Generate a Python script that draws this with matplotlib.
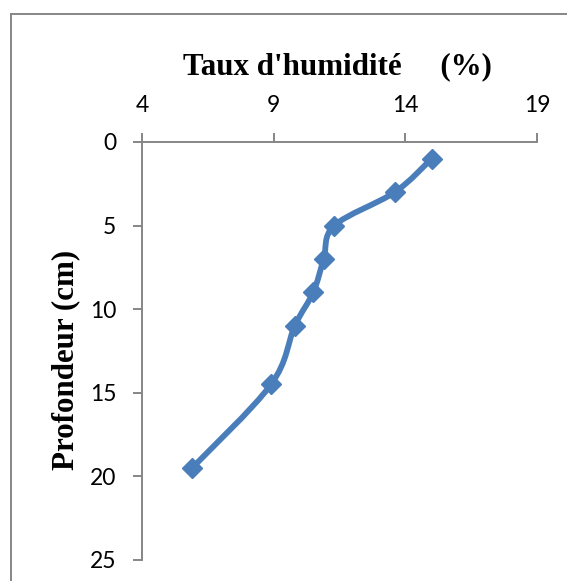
import numpy as np
import matplotlib.pyplot as plt
from matplotlib.path import Path
from matplotlib.patches import PathPatch, Rectangle

# Moisture profile: depth (cm) vs moisture content (%)
humidite = [15.0, 13.6, 11.3, 10.9, 10.5, 9.8, 8.9, 5.9]
profondeur = [1, 3, 5, 7, 9, 11, 14.5, 19.5]
x_ticks = [4, 9, 14, 19]
y_ticks = [0, 5, 10, 15, 20, 25]

blue = "#4A7EBB"
grey = "#868686"

fig = plt.figure(figsize=(5.67, 5.81), dpi=100)
ax = fig.add_axes([142 / 567, 1 - 560 / 581, (537 - 142) / 567, (560 - 142) / 581])

ax.set_xlim(4, 19)
ax.set_ylim(25, 0)
ax.set_xticks(x_ticks)
ax.set_yticks(y_ticks)
ax.xaxis.tick_top()

for side in ["right", "bottom"]:
    ax.spines[side].set_visible(False)
for side in ["left", "top"]:
    ax.spines[side].set_color(grey)
    ax.spines[side].set_linewidth(1.4)

ax.tick_params(axis="both", direction="out", length=6.5, width=1.4, color=grey,
               labelsize=16.5, pad=12)
for lab in ax.get_xticklabels() + ax.get_yticklabels():
    lab.set_fontfamily("Lato")

# smoothed curve (Catmull-Rom -> cubic Bezier) computed in display space
fig.canvas.draw()
pts = ax.transData.transform(np.column_stack([humidite, profondeur]))
n = len(pts)
verts = [pts[0]]
codes = [Path.MOVETO]
t = 1 / 6
for i in range(n - 1):
    p0 = pts[i - 1] if i > 0 else pts[i]
    p1 = pts[i]
    p2 = pts[i + 1]
    p3 = pts[i + 2] if i + 2 < n else pts[i + 1]
    c1 = p1 + (p2 - p0) * t
    c2 = p2 - (p3 - p1) * t
    verts += [c1, c2, p2]
    codes += [Path.CURVE4] * 3
curve = Path(ax.transData.inverted().transform(np.array(verts)), codes)
ax.add_patch(PathPatch(curve, facecolor="none", edgecolor=blue, linewidth=4.2,
                       capstyle="round", joinstyle="round"))

ax.plot(humidite, profondeur, linestyle="none", marker="D", markersize=10.5,
        color=blue, markeredgecolor=blue)

fig.text(337 / 567, 1 - 67 / 581, "Taux d'humidité     (%)", ha="center", va="center",
         fontsize=22.3, fontweight="bold", fontfamily="Liberation Serif")
fig.text(66 / 567, 1 - 360 / 581, "Profondeur (cm)", ha="center", va="center",
         rotation=90, fontsize=22.3, fontweight="bold", fontfamily="Liberation Serif")

# outer chart frame
fig.patches.append(Rectangle((11 / 567, -0.1), 1.2, 1 - 14 / 581 + 0.1,
                             transform=fig.transFigure, fill=False,
                             edgecolor=grey, linewidth=1.4))

fig.savefig("out.png", dpi=100)
